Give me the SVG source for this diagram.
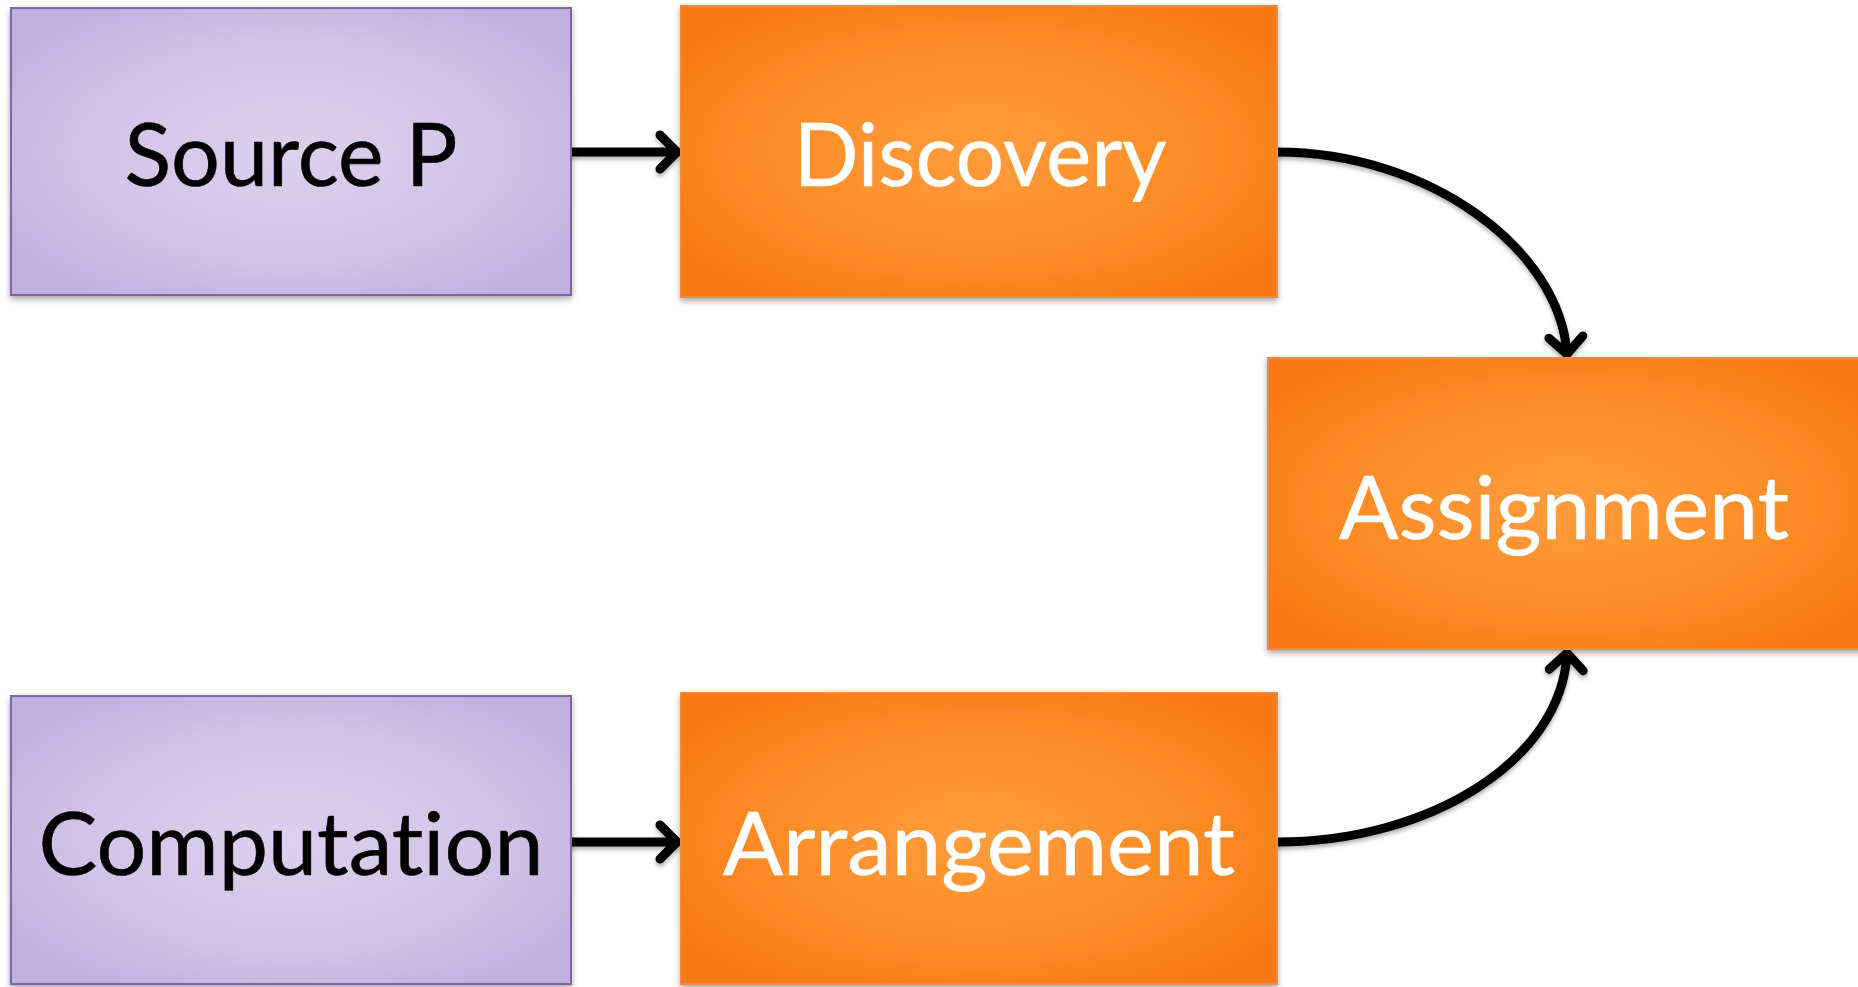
<svg xmlns="http://www.w3.org/2000/svg" width="1858" height="987" viewBox="0 0 1858 987">
<defs>
<radialGradient id="gPurple" cx="0.5" cy="0.5" r="0.6">
<stop offset="0" stop-color="#DBD0EE"/>
<stop offset="0.6" stop-color="#D2C4E8"/>
<stop offset="1" stop-color="#C2B0E0"/>
</radialGradient>
<radialGradient id="gOrange" cx="0.5" cy="0.5" r="0.6">
<stop offset="0" stop-color="#FF9C3C"/>
<stop offset="0.6" stop-color="#FC8C27"/>
<stop offset="1" stop-color="#F97914"/>
</radialGradient>
<filter id="shadow" x="-5%" y="-5%" width="110%" height="115%">
<feDropShadow dx="0" dy="3" stdDeviation="3" flood-color="#000" flood-opacity="0.35"/>
</filter>
<filter id="lshadow" filterUnits="userSpaceOnUse" x="0" y="0" width="1858" height="987">
<feDropShadow dx="0" dy="3" stdDeviation="2" flood-color="#000" flood-opacity="0.3"/>
</filter>
<marker id="arrow" markerUnits="userSpaceOnUse" orient="auto" markerWidth="50" markerHeight="50" viewBox="-25 -25 50 50" refX="0" refY="0" overflow="visible">
<path d="M-17,-17 L0,0 L-17,17" fill="none" stroke="#000" stroke-width="9" stroke-linecap="round" stroke-linejoin="round"/>
</marker>
</defs>
<style>
.purple{fill:url(#gPurple);stroke:#8064A2;stroke-width:2;filter:url(#shadow)}
.orange{fill:url(#gOrange);stroke:#EE8A45;stroke-width:2;filter:url(#shadow)}
.lbl{font-family:Lato,"Open Sans","Liberation Sans",sans-serif;font-size:88px;text-anchor:middle;font-variant-ligatures:none;stroke-width:0.6px}
.dark{fill:#000;stroke:#000}
.light{fill:#fff;stroke:#fff}
.conn{fill:none;stroke:#000;stroke-width:9;stroke-linecap:round;marker-end:url(#arrow)}
</style>
<rect width="1858" height="987" fill="#fff"/>
<g id="connectors" filter="url(#lshadow)">
<path class="conn" d="M571,152 L677,152"/>
<path class="conn" d="M571,842 L677,842"/>
<path class="conn" d="M1277,152 C1430,152 1560,250 1567,354"/>
<path class="conn" d="M1277,842 C1430,842 1562,760 1567,653"/>
</g>
<g id="source-p">
<rect class="purple" x="11" y="8" width="560" height="287"/>
<text class="lbl dark" x="291" y="186" textLength="333" lengthAdjust="spacingAndGlyphs">Source P</text>
</g>
<g id="discovery">
<rect class="orange" x="681" y="6" width="596" height="291"/>
<text class="lbl light" x="980" y="186" textLength="373" lengthAdjust="spacingAndGlyphs">Discovery</text>
</g>
<g id="assignment">
<rect class="orange" x="1268" y="358" width="600" height="291"/>
<text class="lbl light" x="1564" y="539" textLength="450" lengthAdjust="spacingAndGlyphs">Assignment</text>
</g>
<g id="computation">
<rect class="purple" x="11" y="696" width="560" height="288"/>
<text class="lbl dark" x="291" y="875" textLength="505" lengthAdjust="spacingAndGlyphs">Computation</text>
</g>
<g id="arrangement">
<rect class="orange" x="681" y="693" width="596" height="291"/>
<text class="lbl light" x="979" y="875" textLength="512" lengthAdjust="spacingAndGlyphs">Arrangement</text>
</g>
</svg>
